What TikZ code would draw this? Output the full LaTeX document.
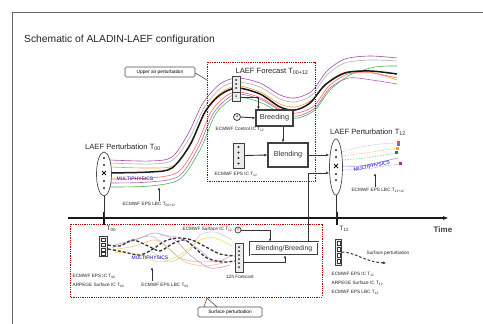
\documentclass[tikz,border=0pt]{standalone}
\usepackage{fontspec}
\setmainfont{Liberation Sans}
\usetikzlibrary{arrows.meta,calc,shapes.geometric}
\begin{document}
\begin{tikzpicture}[x=1pt,y=-1pt,
  lbl/.style={font=\fontsize{4.7}{5}\selectfont, inner sep=0.5pt, text=black!85},
  hdr/.style={font=\fontsize{7.6}{8}\selectfont, inner sep=0.5pt, text=black!85},
  proc/.style={draw=black!75, line width=1.1pt, fill=white, font=\fontsize{7.3}{8}\selectfont, inner sep=0pt, text=black!80},
  stackbox/.style={draw=black!75, line width=0.9pt, fill=black!8, inner sep=0pt},
  ens/.style={draw=black!70, line width=0.7pt, ellipse, inner sep=0pt, fill=white},
  redbox/.style={draw=red!70!black, dash pattern=on 1pt off 0.8pt, line width=0.7pt},
  arr/.style={draw=black!80, line width=0.9pt, -{Latex[length=3pt,width=2.6pt]}},
  con/.style={draw=black!80, line width=0.9pt},
  traj/.style={line width=0.6pt},
  sdash/.style={draw=black!80, line width=1.3pt, dash pattern=on 3pt off 2pt},
  callout/.style={draw=black!70, line width=0.6pt, rounded corners=1.5pt, fill=white, font=\fontsize{4.8}{5}\selectfont, inner sep=1.2pt},
  mp/.style={font=\fontsize{5}{5.5}\selectfont, text=blue!70!black, inner sep=0pt},
]
\useasboundingbox (0,0) rectangle (483,324);
\fill[white] (0,0) rectangle (483,324);
% frame
\draw[black!60, line width=0.8pt] (12,324) -- (12,12) -- (483,12);
% title
\node[anchor=west, font=\fontsize{10.3}{11}\selectfont, text=black!85, inner sep=0pt] (title) at (24,40) {Schematic of ALADIN-LAEF configuration};

% ---------- upper trajectories ----------
\draw[traj, violet!70] plot[smooth] coordinates {(110,160)(150,161)(172,157)(188,134)(203,103)(220,84)(237,78)(260,83)(280,95)(295,98)(312,91)(327,71)(345,59)(370,56)(397,58)};
\draw[traj, black!30] plot[smooth] coordinates {(110,163)(150,164)(173,160)(190,137)(205,106)(221,88)(237,82)(260,87)(280,99)(295,102)(312,95)(327,75)(345,63)(370,60)(397,61)};
\draw[traj, orange!80] plot[smooth] coordinates {(110,167)(150,168)(175,165)(192,140)(207,108)(222,92)(238,86)(260,92)(280,104)(295,107)(312,100)(328,82)(346,72)(370,72)(397,80)};
\draw[traj, green!60!black!70] plot[smooth] coordinates {(110,187)(150,186)(180,179)(200,150)(215,115)(230,100)(240,97)(262,103)(285,116)(298,118)(315,110)(330,90)(350,75)(375,67)(397,66)};
\draw[traj, red!60] plot[smooth] coordinates {(110,179)(150,178)(178,172)(196,146)(211,112)(226,96)(239,92)(261,98)(283,111)(297,113)(314,106)(329,86)(348,74)(372,73)(397,78)};
\draw[traj, violet!60] plot[smooth] coordinates {(110,183)(150,182)(179,176)(198,148)(213,114)(228,98)(240,94)(262,100)(284,113)(298,116)(315,108)(330,88)(349,78)(372,80)(397,84)};
\draw[line width=1.5pt, black!90] plot[smooth] coordinates {(104,173)(150,172)(172,168)(190,145)(205,112)(220,95)(237,88)(260,94)(280,107)(295,110)(310,103)(325,85)(345,73)(370,71)(397,74)};

% ---------- right small trajectories ----------
\draw[traj, black!30, densely dotted] plot[smooth] coordinates {(342,152)(360,147)(380,144)(398,143)};
\draw[traj, orange!70, densely dotted] plot[smooth] coordinates {(342,156)(365,153)(385,150)(398,148)};
\draw[traj, green!60!black!60, densely dotted] plot[smooth] coordinates {(342,160)(365,158)(385,155)(397,153)};
\draw[traj, blue!40] plot[smooth] coordinates {(342,166)(360,166)(380,162)(398,158)};
\draw[traj, violet!50, densely dotted] plot[smooth] coordinates {(342,170)(365,169)(385,166)(400,164)};
\fill[red!70] (397,141) rectangle (400,144);
\fill[blue!60] (397,144) rectangle (400,146);
\fill[orange!80] (396,147) rectangle (399,150);
\fill[green!60!black] (395,151) rectangle (398,154);
\fill[violet!80] (399,162) rectangle (402,165);
\node[mp, rotate=12] (mpr) at (372,166) {MULTIPHYSICS};

% ---------- upper red box ----------
\draw[redbox] (207,62) rectangle (315,181);
\node[hdr] (fctxt) at (272,71) {LAEF Forecast T\textsubscript{00+12}};

% callout upper air
\node[callout, minimum width=70pt, minimum height=10pt] (ua) at (160,72) {Upper air perturbation};
\draw[black!70, line width=0.6pt] ([yshift=-1pt]ua.east) -- (207,80);

% forecast stack
\node[stackbox, minimum width=8pt, minimum height=25pt] (fst) at (236,88.5) {};
\draw[black!75, line width=0.6pt] (232,92) -- (240,92);
\foreach \yy in {80,84,88} \fill[black!85] (236,\yy) circle (1pt);
\node[font=\fontsize{3.5}{4}\selectfont, inner sep=0pt] (fsa) at (236,96.5) {a};

% breeding
\node[proc, minimum width=37pt, minimum height=16pt] (breed) at (274.5,118) {Breeding};
\node[draw=black!75, line width=0.8pt, circle, fill=black!5, minimum size=7pt, inner sep=0pt, font=\fontsize{3.5}{4}\selectfont] (ctrl) at (237,117) {a};
\node[lbl] (ctrltxt) at (240,129) {ECMWF Control IC T\textsubscript{12}};
\draw[arr] ($(fst.south east)+(0,-4)$) -| ($(breed.north west)+(3,0)$);
\draw[arr] (ctrl.east) -- (breed.west);

% blending
\node[proc, minimum width=40pt, minimum height=24pt] (blend) at (288,155) {Blending};
\node[stackbox, minimum width=11pt, minimum height=25pt] (eps) at (238.5,155.5) {};
\foreach \yy in {147,152.5,158,163.5} \fill[black!85] (238.5,\yy) circle (1.1pt);
\node[lbl] (epstxt) at (236,174) {ECMWF EPS IC T\textsubscript{12}};
\draw[arr] (breed.south -| 283,0) -- (blend.north -| 283,0);
\draw[arr] (eps.east) -- (blend.west);

% ---------- ellipses ----------
\node[ens, minimum width=15pt, minimum height=44pt] (lell) at (104,174) {};
\foreach \yy in {158,165,181,188} \fill[black!85] (104,\yy) circle (1.1pt);
\draw[black!90, line width=0.8pt] (102,171)--(106,175) (102,175)--(106,171);
\node[hdr] (lelltxt) at (123,147) {LAEF Perturbation T\textsubscript{00}};

\node[ens, minimum width=13pt, minimum height=56pt] (rell) at (336,167) {};
\foreach \yy in {150,157,174,180} \fill[black!85] (336,\yy) circle (1.1pt);
\draw[black!90, line width=0.8pt] (334,164)--(338,168) (334,168)--(338,164);
\node[hdr] (relltxt) at (368,132) {LAEF Perturbation T\textsubscript{12}};
\draw[arr] (blend.east) -- (blend.east -| rell.west);

\node[mp] (mpl) at (135,179) {MULTIPHYSICS};
\node[lbl] (lbc1) at (149,204) {ECMWF EPS LBC T\textsubscript{00+12}};
\draw[arr] ($(lbc1.north)+(10,0)$) -- ++(0,-14);
\node[lbl] (lbc2) at (378,190) {ECMWF EPS LBC T\textsubscript{12+12}};
\draw[arr] ($(lbc2.north)+(-3,0)$) -- ++(0,-14);

% ---------- time axis ----------
\coordinate (ax0) at (68,218);
\coordinate (ax1) at (449,218);
\draw[black!90, line width=1.4pt, -{Latex[length=6pt,width=4pt]}] (ax0) -- (ax1);
\node[font=\fontsize{8}{8.5}\selectfont\bfseries, text=black!75, inner sep=0pt] (time) at (443,230) {Time};
\draw[black!90, line width=2pt] (104,212) -- (104,225);
\draw[black!90, line width=2pt] (337,212) -- (337,225);
\node[hdr, anchor=west, font=\fontsize{6.3}{7}\selectfont] (t00) at (106,229) {T\textsubscript{00}};
\node[hdr, anchor=west, font=\fontsize{6.3}{7}\selectfont] (t12) at (339,229) {T\textsubscript{12}};
\draw[con] (lell.south) -- (lell.south |- ax0);
\draw[con] (rell.south) -- (rell.south |- ax0);

% ---------- lower red box ----------
\draw[redbox] (70,224) rectangle (322,297);
\node[callout, minimum width=64pt, minimum height=10pt] (sp) at (230,312) {Surface perturbation};
\draw[black!70, line width=0.6pt] (204,307) -- (207,298) -- (217,307);

% faint wiggles
\draw[traj, black!25] plot[smooth] coordinates {(112,248)(130,242)(150,236)(165,245)(180,258)(200,262)(225,260)};
\draw[traj, orange!50] plot[smooth] coordinates {(112,250)(135,246)(155,240)(170,250)(185,262)(205,266)(228,262)};
\draw[traj, violet!40] plot[smooth] coordinates {(115,245)(140,238)(155,233)(175,240)(190,255)(210,268)(230,265)};
\draw[traj, yellow!60!orange!60] plot[smooth] coordinates {(115,252)(140,255)(160,262)(180,255)(200,240)(215,238)(232,246)};
\draw[traj, black!20] plot[smooth] coordinates {(150,250)(170,262)(190,250)(200,235)(215,232)(232,240)};
\draw[traj, violet!30] plot[smooth] coordinates {(160,235)(180,238)(200,250)(215,262)(232,255)};

% lower left stack
\node[stackbox, minimum width=8pt, minimum height=20pt] (lst) at (103.5,246.5) {};
\foreach \yy in {239.5,244.5,249.5,254} \draw[black!80, fill=white, line width=0.3pt] (101.5,\yy-1.5) rectangle (105.5,\yy+1.5);
\draw[sdash] plot[smooth] coordinates {(108,245)(120,246)(133,240)(148,246)(160,251)(172,244)(185,240)(196,249)(207,258)(222,262)(235,261)};
\draw[sdash] plot[smooth] coordinates {(108,249)(124,252)(140,255)(153,249)(165,241)(178,238)(192,240)(206,247)(220,254)(235,256)};
\node[mp] (mplo) at (150,258) {MULTIPHYSICS};
\node[lbl, anchor=west] (li1) at (72,276) {ECMWF EPS IC T\textsubscript{00}};
\node[lbl, anchor=west] (li2) at (72,285) {ARPEGE Surface IC T\textsubscript{00}};
\node[lbl] (lbc0) at (165,285) {ECMWF EPS LBC T\textsubscript{00}};
\draw[arr] ($(lbc0.north)+(-13,-1)$) -- ++(0,-14);

% 12h forecast stack
\node[stackbox, minimum width=8pt, minimum height=29pt] (st12) at (239,257.5) {};
\foreach \yy in {247,251,255,259,263,267} \fill[black!85] (239,\yy) circle (1pt);
\node[lbl] (fc12) at (240,277) {12h Forecast};

% blending/breeding
\node[proc, double, double distance=0.8pt, line width=0.5pt, minimum width=68pt, minimum height=13pt, font=\fontsize{6.9}{7.5}\selectfont] (bb) at (284,248.5) {Blending/Breeding};
\node[draw=black!75, line width=0.7pt, circle, fill=black!5, minimum size=6pt, inner sep=0pt, font=\fontsize{3}{3.5}\selectfont] (sc) at (238,230) {s};
\node[lbl, anchor=east] (sctxt) at (233,229) {ECMWF Surface IC T\textsubscript{12}};
\draw[arr] (sc.east) -| (bb.north -| 270,0);
\draw[arr] ([yshift=-5pt]st12.east) -| (bb.south -| 285,0);
\draw[arr] (bb.north -| 308,0) |- ([yshift=-6pt]rell.west);

% right bottom stack
\node[stackbox, minimum width=6pt, minimum height=26pt] (rst) at (338.5,252) {};
\foreach \yy in {243,249,255,261} \draw[black!80, fill=white, line width=0.3pt] (337,\yy-2) rectangle (340,\yy+2);
\draw[sdash, line width=1pt, dash pattern=on 2.5pt off 2pt, -{Latex[length=3pt,width=3pt]}] (rst.east) .. controls (355,252) and (365,262) .. (386,263);
\node[lbl, anchor=west] (sptxt) at (366,253) {Surface perturbation};
\node[lbl, anchor=west] (ri1) at (331,274) {ECMWF EPS IC T\textsubscript{12}};
\node[lbl, anchor=west] (ri2) at (331,283) {ARPEGE Surface IC T\textsubscript{12}};
\node[lbl, anchor=west] (ri3) at (331,292) {ECMWF EPS LBC T\textsubscript{12}};
\end{tikzpicture}
\end{document}
